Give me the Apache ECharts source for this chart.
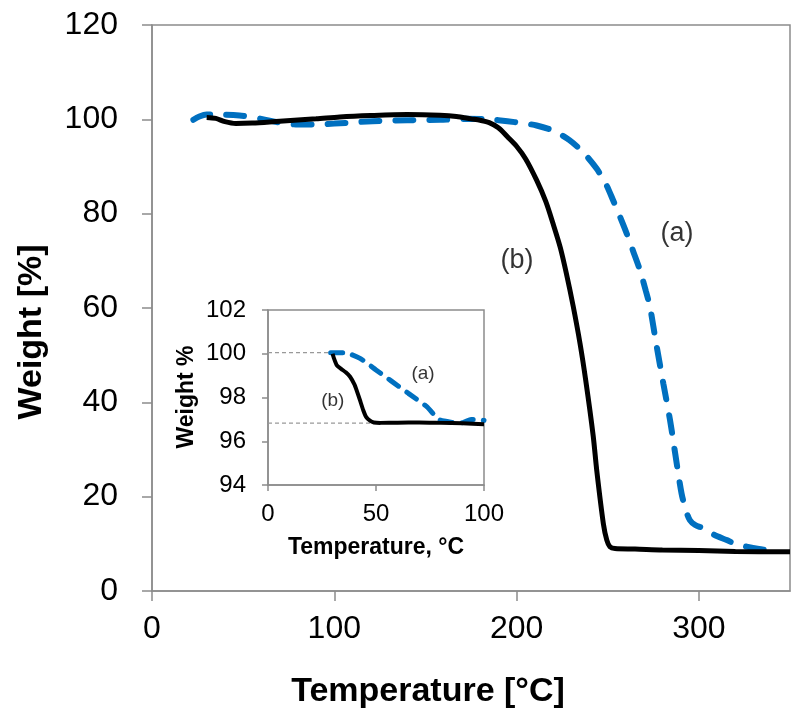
<!DOCTYPE html>
<html>
<head>
<meta charset="utf-8">
<script src="https://cdn.jsdelivr.net/npm/echarts@6/dist/echarts.min.js"></script>
<style>html,body{margin:0;padding:0;background:#fff}#c{width:800px;height:722px}</style>
</head>
<body>
<div id="c"></div>
<script>
// Main chart: curve (b) black solid
const bT = [30, 35, 40, 46, 55, 70, 90, 103, 120, 140, 158, 167, 175, 180, 185, 190, 195, 200, 205, 211, 216, 220, 224, 227.5, 231, 234.8, 238, 242, 244, 247.6, 249.5, 251.2, 254, 265, 280, 300, 320, 350];
const bW = [100.4, 100.2, 99.5, 99.1, 99.2, 99.6, 100.1, 100.5, 100.8, 101.0, 100.85, 100.6, 100.1, 99.8, 99.3, 98.2, 96.3, 94.3, 91.6, 87.1, 82.6, 77.9, 72.8, 67.0, 60.5, 52.5, 44.5, 33, 25.5, 14.3, 10.8, 9.4, 9.0, 8.9, 8.7, 8.6, 8.4, 8.3];
// Main chart: curve (a) blue dashed
const aT = [22.7, 26, 30, 36, 48, 60, 70, 80, 88, 100, 121, 140, 158, 172, 185, 195, 203, 211, 220, 229, 237, 244, 249, 253, 257, 260.4, 264, 267.7, 271, 273.2, 276.8, 280.5, 284.2, 287, 290.5, 293, 295.1, 298, 302.4, 308, 315.3, 320, 326.2, 333, 341];
const aW = [99.9, 100.6, 101.0, 101.0, 100.8, 100.1, 99.3, 98.9, 98.9, 99.1, 99.6, 99.8, 99.9, 100.1, 100, 99.6, 99.2, 98.7, 97.6, 95.6, 92.8, 89.5, 86.3, 82.8, 79.1, 75.8, 72, 68, 63.5, 60.2, 52, 44, 36.2, 29.2, 20.7, 17, 15, 14, 13.3, 12, 10.8, 10, 9.4, 8.9, 8.5];
// Inset: curve (a)
const iaT = [29, 32, 35.6, 42.6, 50, 57, 65, 73.5, 77, 79.6, 83, 86, 90, 94, 97, 100];
const iaW = [100.05, 100.05, 100.05, 99.79, 99.26, 98.76, 98.19, 97.58, 97.2, 96.97, 96.9, 96.85, 96.85, 97.0, 97.0, 96.95];
// Inset: curve (b)
const ibT = [29.9, 30.5, 31.8, 34, 36, 38, 40, 41, 42.5, 44.1, 45.5, 47.2, 49, 52, 60, 70, 80, 90, 100];
const ibW = [100.0, 99.8, 99.48, 99.3, 99.15, 98.95, 98.6, 98.34, 97.9, 97.42, 97.1, 96.94, 96.86, 96.84, 96.85, 96.86, 96.84, 96.82, 96.78];
// Inset reference lines
const ref1T = [0, 30], ref1W = [100.05, 100.05];
const ref2T = [0, 100], ref2W = [96.83, 96.83];
// Labels
const mainLabels = [{t: 288, w: 75.8, s: '(a)'}, {t: 200.2, w: 70.1, s: '(b)'}];
const insetLabels = [{t: 71.8, w: 99.1, s: '(a)'}, {t: 30, w: 97.84, s: '(b)'}];
// Axis ticks
const mainX = {min: 0, max: 350, interval: 100};
const mainY = {min: 0, max: 120, interval: 20};
const insX = {min: 0, max: 100, interval: 50};
const insY = {min: 94, max: 102, interval: 2};

const zip = (xs, ys) => xs.map((x, i) => [x, ys[i]]);
const AX = '#8c8c8c';
const FONT = 'Liberation Sans, Arial, sans-serif';

function axis(gi, r, isX, fs, margin, tickLen) {
  return {
    type: 'value', gridIndex: gi, min: r.min, max: r.max, interval: r.interval,
    axisLine: {show: true, lineStyle: {color: AX, width: 1.5}},
    axisTick: {show: true, inside: false, length: tickLen, lineStyle: {color: AX, width: 1.5}},
    splitLine: {show: false},
    axisLabel: {color: '#000', fontSize: fs, fontFamily: FONT, margin: margin, showMaxLabel: isX && r.max % r.interval !== 0 ? false : true}
  };
}

const chart = echarts.init(document.getElementById('c'), null, {renderer: 'canvas'});
chart.setOption({
  animation: false,
  backgroundColor: '#fff',
  grid: [
    {left: 152, top: 25, right: 10, bottom: 131, show: true, borderColor: AX, borderWidth: 1.5, backgroundColor: 'transparent'},
    {left: 268, top: 310, width: 216, height: 175, show: true, borderColor: AX, borderWidth: 1.5, backgroundColor: '#fff', z: 5}
  ],
  xAxis: [axis(0, mainX, true, 32, 22, 10), Object.assign(axis(1, insX, true, 24, 17, 6), {z: 6})],
  yAxis: [axis(0, mainY, false, 32, 34, 10), Object.assign(axis(1, insY, false, 24, 22, 6), {z: 6})],
  series: [
    {type: 'line', xAxisIndex: 0, yAxisIndex: 0, data: zip(aT, aW), showSymbol: false, smooth: 0.3,
     lineStyle: {color: '#0070C0', width: 6, type: [18, 16], cap: 'round'}, z: 2},
    {type: 'line', xAxisIndex: 0, yAxisIndex: 0, data: zip(bT, bW), showSymbol: false, smooth: 0.3,
     lineStyle: {color: '#000', width: 5}, z: 3},
    {type: 'scatter', xAxisIndex: 0, yAxisIndex: 0, symbolSize: 0, data: mainLabels.map(d => ({value: [d.t, d.w], label: {formatter: d.s}})),
     label: {show: true, position: 'inside', color: '#000', fontSize: 27, fontFamily: FONT}},
    {type: 'line', xAxisIndex: 1, yAxisIndex: 1, data: zip(ref1T, ref1W), showSymbol: false,
     lineStyle: {color: '#999', width: 1.2, type: [4, 3]}, z: 6},
    {type: 'line', xAxisIndex: 1, yAxisIndex: 1, data: zip(ref2T, ref2W), showSymbol: false,
     lineStyle: {color: '#999', width: 1.2, type: [4, 3]}, z: 6},
    {type: 'line', xAxisIndex: 1, yAxisIndex: 1, data: zip(iaT, iaW), showSymbol: false, smooth: 0.2,
     lineStyle: {color: '#0070C0', width: 5, type: [12, 10], cap: 'round'}, z: 7},
    {type: 'line', xAxisIndex: 1, yAxisIndex: 1, data: zip(ibT, ibW), showSymbol: false, smooth: 0.2,
     lineStyle: {color: '#000', width: 4}, z: 8},
    {type: 'scatter', xAxisIndex: 1, yAxisIndex: 1, symbolSize: 0, data: insetLabels.map(d => ({value: [d.t, d.w], label: {formatter: d.s}})),
     label: {show: true, position: 'inside', color: '#000', fontSize: 19, fontFamily: FONT}, z: 9}
  ],
  graphic: [
    {type: 'text', x: 428, y: 692, style: {text: 'Temperature [°C]', font: 'bold 34px ' + FONT, fill: '#000', align: 'center', verticalAlign: 'middle'}},
    {type: 'text', x: 32, y: 332, rotation: Math.PI / 2, style: {text: 'Weight [%]', font: 'bold 34px ' + FONT, fill: '#000', align: 'center', verticalAlign: 'middle'}},
    {type: 'text', x: 376, y: 548, z: 10, style: {text: 'Temperature, °C', font: 'bold 23px ' + FONT, fill: '#000', align: 'center', verticalAlign: 'middle'}},
    {type: 'text', x: 187, y: 397, z: 10, rotation: Math.PI / 2, style: {text: 'Weight %', font: 'bold 23px ' + FONT, fill: '#000', align: 'center', verticalAlign: 'middle'}}
  ]
});
</script>
</body>
</html>
